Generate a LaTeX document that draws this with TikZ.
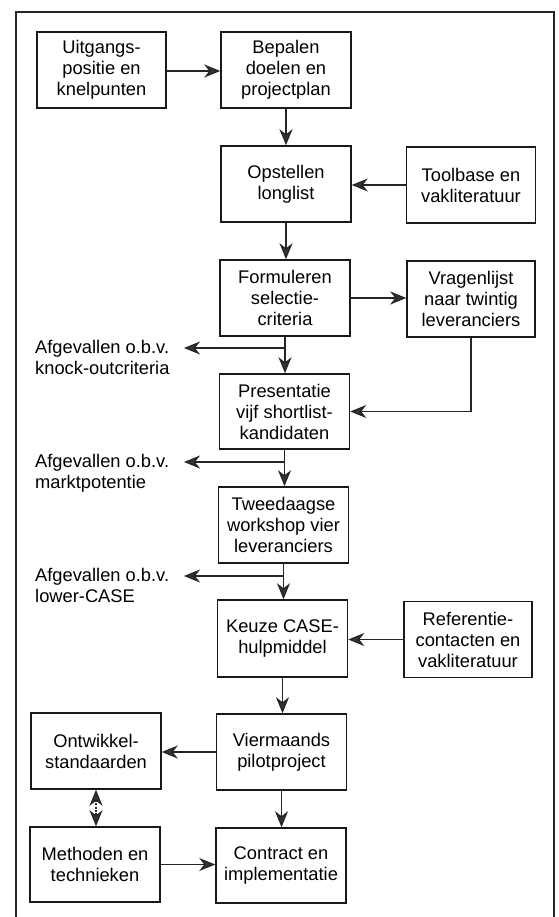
\documentclass[tikz,border=0pt]{standalone}
\usepackage{fontspec}
\setmainfont{Liberation Sans}
\usetikzlibrary{arrows.meta,positioning}
\begin{document}
\begin{tikzpicture}[x=1pt,y=-1pt,
  every node/.style={font=\fontsize{18.3}{21}\selectfont},
  box/.style={draw=black!90,line width=1.5pt,minimum width=130pt,minimum height=76pt,
    inner sep=0pt,align=center},
  note/.style={inner sep=0pt,align=left,anchor=north west},
  tip/.style={Stealth[length=16pt,width=13pt,inset=5pt,fill=black!80]},
  flow/.style={line width=1.3pt,draw=black!85,-{Stealth[length=16pt,width=13pt,inset=5pt,fill=black!80]}},
  twoway/.style={line width=1.3pt,draw=black!85,dash pattern=on 2pt off 1.2pt,
    {Stealth[length=16pt,width=13pt,inset=5pt,fill=black!80]}-{Stealth[length=16pt,width=13pt,inset=5pt,fill=black!80]}}
]
\useasboundingbox (0,0) rectangle (558,917);
% outer frame, open at the bottom edge
\draw[line width=2pt,black!85] (16,917) -- (16,12.5) -- (554,12.5) -- (554,917);

% boxes
\node[box,minimum width=129pt] (uit) at (101.5,70) {Uitgangs-\\positie en\\knelpunten};
\node[box] (bep) at (286,70) {Bepalen\\doelen en\\projectplan};
\node[box] (ops) at (286,184) {Opstellen\\longlist};
\node[box,minimum width=129pt] (tool) at (471,185) {Toolbase en\\vakliteratuur};
\node[box] (for) at (285,298) {Formuleren\\selectie-\\criteria};
\node[box,minimum width=128pt] (vra) at (471,299) {Vragenlijst\\naar twintig\\leveranciers};
\node[box,minimum height=75pt] (pre) at (284.5,411.5) {Presentatie\\vijf shortlist-\\kandidaten};
\node[box] (twe) at (283.5,525) {Tweedaagse\\workshop vier\\leveranciers};
\node[box,minimum height=77pt] (keu) at (282.5,638.5) {Keuze CASE-\\hulpmiddel};
\node[box,minimum width=128pt] (ref) at (468,639.5) {Referentie-\\contacten en\\vakliteratuur};
\node[box] (vie) at (281.5,752) {Viermaands\\pilotproject};
\node[box] (ont) at (96,751) {Ontwikkel-\\standaarden};
\node[box,minimum height=75pt] (met) at (95,864.5) {Methoden en\\technieken};
\node[box,minimum height=75pt] (con) at (281,865.5) {Contract en\\implementatie};

% rejected candidates, branching off the main line
\node[note] (af1) at (35,339.6) {Afgevallen o.b.v.\\knock-outcriteria};
\node[note] (af2) at (35,453.6) {Afgevallen o.b.v.\\marktpotentie};
\node[note] (af3) at (35,567.6) {Afgevallen o.b.v.\\lower-CASE};
\coordinate (b1) at (285,348);
\coordinate (b2) at (284,462);
\coordinate (b3) at (283,576);
\coordinate (t1) at (184,348);
\coordinate (t2) at (184,462);
\coordinate (t3) at (184,576);

% connectors
\draw[flow] (uit.east |- 0,71) -- (bep.west |- 0,71);
\draw[flow] (bep.south) -- (bep.south |- ops.north);
\draw[flow] (tool.west) -- (ops.east |- tool.west);
\draw[flow] (ops.south) -- (ops.south |- for.north);
\draw[flow] (for.east) -- (vra.west |- for.east);
\draw[flow] (for.south) -- (for.south |- pre.north);
\draw[flow] (vra.south) |- (pre.east);
\draw[flow] (pre.south) -- (pre.south |- twe.north);
\draw[flow] (twe.south) -- (twe.south |- keu.north);
\draw[flow] (ref.west) -- (keu.east |- ref.west);
\draw[flow] (keu.south) -- (keu.south |- vie.north);
\draw[flow] (vie.west) -- (ont.east |- vie.west);
\draw[flow] (vie.south) -- (vie.south |- con.north);
\draw[flow] (met.east) -- (con.west |- met.east);
\draw[twoway] (ont.south) -- (met.north -| ont.south);
\draw[flow] (b1) -- (t1);
\draw[flow] (b2) -- (t2);
\draw[flow] (b3) -- (t3);
\end{tikzpicture}
\end{document}
